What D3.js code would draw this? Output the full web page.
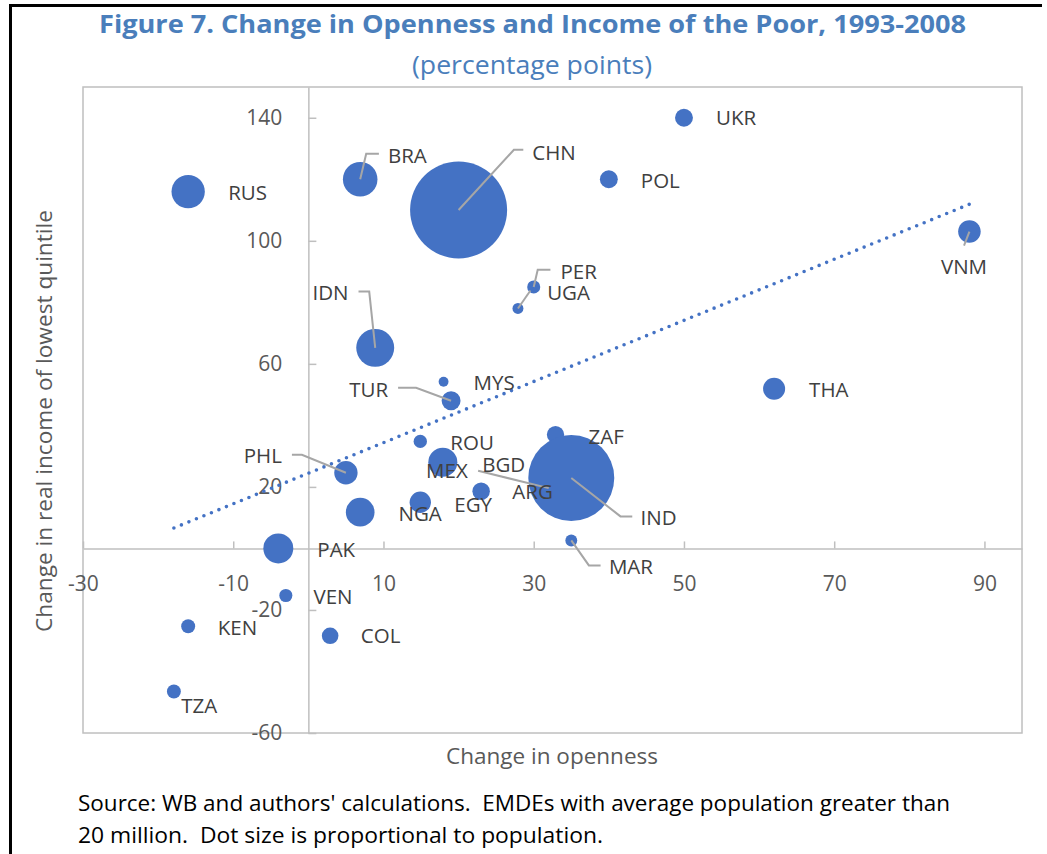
<!DOCTYPE html>
<html>
<head>
<meta charset="utf-8">
<script src="https://cdn.jsdelivr.net/npm/d3@7"></script>
<style>
  body { margin: 0; background: #fff; }
  text { font-family: "Open Sans", sans-serif; }
</style>
</head>
<body>
<div id="chart"></div>
<script>
// values (BGD sits under the IND bubble)
const countries = ["RUS", "BRA", "CHN", "UKR", "POL", "VNM", "PER", "UGA", "IDN", "MYS", "TUR", "THA", "ROU", "ZAF",
                   "PHL", "MEX", "BGD", "ARG", "IND", "NGA", "EGY", "MAR", "PAK", "VEN", "KEN", "COL", "TZA"];
const openness = [-16.0, 6.9, 20.0, 50.0, 40.0, 88.0, 30.0, 27.9, 8.9, 18.0, 19.0, 62.0, 14.9, 32.9,
                  5.0, 17.9, 32.0, 23.0, 35.0, 6.9, 14.9, 35.0, -4.0, -3.0, -16.0, 2.9, -17.9];
const income = [116.0, 120.0, 110.0, 140.0, 120.0, 103.0, 85.0, 78.0, 65.2, 54.2, 48.0, 51.9, 34.8, 37.0,
                24.6, 28.0, 19.6, 18.6, 22.9, 11.8, 15.0, 2.6, 0.0, -15.3, -25.3, -28.4, -46.5];
const population = [149, 160, 1260, 43, 43, 68, 23, 16, 193, 13, 48, 65, 24, 40,
                    73, 113, 130, 41, 990, 110, 61, 19, 120, 23, 26, 37, 26];

const xTicks = [-30, -10, 10, 30, 50, 70, 90];
const yTicks = [-60, -20, 20, 60, 100, 140];

// label placement relative to the bubble centre (px), as laid out in the figure
const labelLayout = {
  RUS: { dx: 40, dy: 1 },
  BRA: { dx: 27.7, dy: -23.7, leader: [[0, 0], [6, -25.5], [18.7, -25.5]] },
  CHN: { dx: 73.7, dy: -57.8, leader: [[0, 0], [55.3, -60.3], [64.7, -60.3]] },
  UKR: { dx: 32, dy: 0 },
  POL: { dx: 32, dy: 1 },
  VNM: { dx: -5.4, dy: 35, anchor: "middle", leader: [[0, 0], [-5.4, 14]] },
  PER: { dx: 26.7, dy: -15.3, leader: [[0, 0], [4, -17.3], [16.7, -17.3]] },
  UGA: { dx: 29.2, dy: -15.5, leader: [[0, 0], [12.5, -18]] },
  IDN: { dx: -26.7, dy: -55.5, anchor: "end", leader: [[0, 0], [-6, -56.3], [-16.7, -56.3]] },
  MYS: { dx: 30, dy: 1 },
  TUR: { dx: -63, dy: -11, anchor: "end", leader: [[0, 0], [-35, -13], [-53, -13]] },
  THA: { dx: 35, dy: 1 },
  ROU: { dx: 30, dy: 1.3 },
  ZAF: { dx: 33, dy: 1.7 },
  PHL: { dx: -64, dy: -17, anchor: "end", leader: [[0, 0], [-44, -18], [-54, -18]] },
  MEX: { dx: -16.7, dy: 8.5 },
  BGD: { dx: -66.6, dy: -23.6, leader: [[0, 0], [-70.6, -17.3]] },
  ARG: { dx: 31.2, dy: 0 },
  IND: { dx: 69.2, dy: 39.2, leader: [[0, 0], [49.2, 38.4], [61, 38.4]] },
  NGA: { dx: 38.3, dy: 1 },
  EGY: { dx: 34, dy: 2 },
  MAR: { dx: 37.6, dy: 26.3, leader: [[0, 0], [17.6, 25], [29.3, 25]] },
  PAK: { dx: 39, dy: 0.7 },
  VEN: { dx: 27.6, dy: 1 },
  KEN: { dx: 29.6, dy: 1 },
  COL: { dx: 30.7, dy: 0 },
  TZA: { dx: 7.4, dy: 14.3 }
};

const data = countries.map((c, i) => ({ name: c, x: openness[i], y: income[i], pop: population[i] }));

const W = 1047, H = 854;
const plot = { left: 83, right: 1022, top: 87, bottom: 733 };
const blue = "#4472c4";
const grey = "#bfbfbf";

const svg = d3.select("#chart").append("svg")
  .attr("width", W)
  .attr("height", H);

// outer frame lines (top and left)
svg.append("line").attr("x1", 10.5).attr("x2", 1042).attr("y1", 5.5).attr("y2", 5.5)
  .attr("stroke", "#000").attr("stroke-width", 3);
svg.append("line").attr("x1", 10.5).attr("x2", 10.5).attr("y1", 4).attr("y2", H)
  .attr("stroke", "#000").attr("stroke-width", 3);

// title
svg.append("text")
  .attr("x", 99).attr("y", 33)
  .attr("textLength", 867).attr("lengthAdjust", "spacingAndGlyphs")
  .attr("fill", "#4a7ebb")
  .style("font-size", "25px").style("font-weight", "700")
  .text("Figure 7. Change in Openness and Income of the Poor, 1993-2008");

svg.append("text")
  .attr("x", 532).attr("y", 74)
  .attr("text-anchor", "middle")
  .attr("textLength", 240).attr("lengthAdjust", "spacingAndGlyphs")
  .attr("fill", "#4a7ebb")
  .style("font-size", "25px")
  .text("(percentage points)");

const x = d3.scaleLinear().domain([-30, 95]).range([plot.left, plot.right]);
const y = d3.scaleLinear().domain([-60, 150]).range([plot.bottom, plot.top]);
const r = d3.scaleSqrt().domain([0, d3.max(population)]).range([0, 48.5]);

// plot area border
svg.append("rect")
  .attr("x", plot.left).attr("y", plot.top)
  .attr("width", plot.right - plot.left).attr("height", plot.bottom - plot.top)
  .attr("fill", "none").attr("stroke", grey).attr("stroke-width", 1.5);

const xAxis = svg.append("g")
  .attr("transform", `translate(0,${y(0)})`)
  .call(d3.axisBottom(x).tickValues(xTicks).tickSize(-7).tickSizeOuter(0).tickPadding(28)
    .tickFormat(d => String(d)));

const yAxis = svg.append("g")
  .attr("transform", `translate(${x(0)},0)`)
  .call(d3.axisLeft(y).tickValues(yTicks).tickSize(-8).tickSizeOuter(0).tickPadding(26)
    .tickFormat(d => String(d)));

[xAxis, yAxis].forEach(g => {
  g.select(".domain").attr("stroke", grey).attr("stroke-width", 1.5);
  g.selectAll(".tick line").attr("stroke", grey).attr("stroke-width", 1.5);
  g.selectAll(".tick text").attr("fill", "#595959")
    .style("font-size", "21px").style("font-family", "'Open Sans', sans-serif");
});

// bubbles
svg.append("g").selectAll("circle")
  .data(data)
  .enter()
  .append("circle")
  .attr("cx", d => x(d.x))
  .attr("cy", d => y(d.y))
  .attr("r", d => r(d.pop))
  .attr("fill", blue);

// linear trend (least squares over the points)
const mx = d3.mean(data, d => d.x), my = d3.mean(data, d => d.y);
const slope = d3.sum(data, d => (d.x - mx) * (d.y - my)) / d3.sum(data, d => (d.x - mx) ** 2);
const icpt = my - slope * mx;
const [x0, x1] = d3.extent(data, d => d.x);
svg.append("line")
  .attr("x1", x(x0)).attr("y1", y(icpt + slope * x0))
  .attr("x2", x(x1)).attr("y2", y(icpt + slope * x1))
  .attr("stroke", blue).attr("stroke-width", 3.6)
  .attr("stroke-linecap", "round")
  .attr("stroke-dasharray", "0 8.1");

// leader lines and labels
const labels = svg.append("g");
data.forEach(d => {
  const L = labelLayout[d.name];
  const cx = x(d.x), cy = y(d.y);
  if (L.leader) {
    labels.append("polyline")
      .attr("points", L.leader.map(p => [cx + p[0], cy + p[1]].join(",")).join(" "))
      .attr("fill", "none").attr("stroke", "#a6a6a6").attr("stroke-width", 2);
  }
  labels.append("text")
    .attr("x", cx + L.dx).attr("y", cy + L.dy)
    .attr("dy", "0.36em")
    .attr("text-anchor", L.anchor || "start")
    .attr("fill", "#404040")
    .style("font-size", "20.5px")
    .text(d.name);
});

// axis titles
svg.append("text")
  .attr("x", 552).attr("y", 764)
  .attr("text-anchor", "middle")
  .attr("textLength", 212).attr("lengthAdjust", "spacingAndGlyphs")
  .attr("fill", "#595959")
  .style("font-size", "22px")
  .text("Change in openness");

svg.append("text")
  .attr("transform", "translate(52,421) rotate(-90)")
  .attr("text-anchor", "middle")
  .attr("textLength", 422).attr("lengthAdjust", "spacingAndGlyphs")
  .attr("fill", "#595959")
  .style("font-size", "22px")
  .text("Change in real income of lowest quintile");

// source note
const note = ["Source: WB and authors' calculations.  EMDEs with average population greater than",
              "20 million.  Dot size is proportional to population."];
const noteWidth = [872, 525];
note.forEach((t, i) => {
  svg.append("text")
    .attr("x", 78).attr("y", 811 + i * 32)
    .attr("textLength", noteWidth[i]).attr("lengthAdjust", "spacingAndGlyphs")
    .attr("fill", "#000")
    .style("font-size", "21.5px").style("white-space", "pre")
    .text(t);
});
</script>
</body>
</html>
